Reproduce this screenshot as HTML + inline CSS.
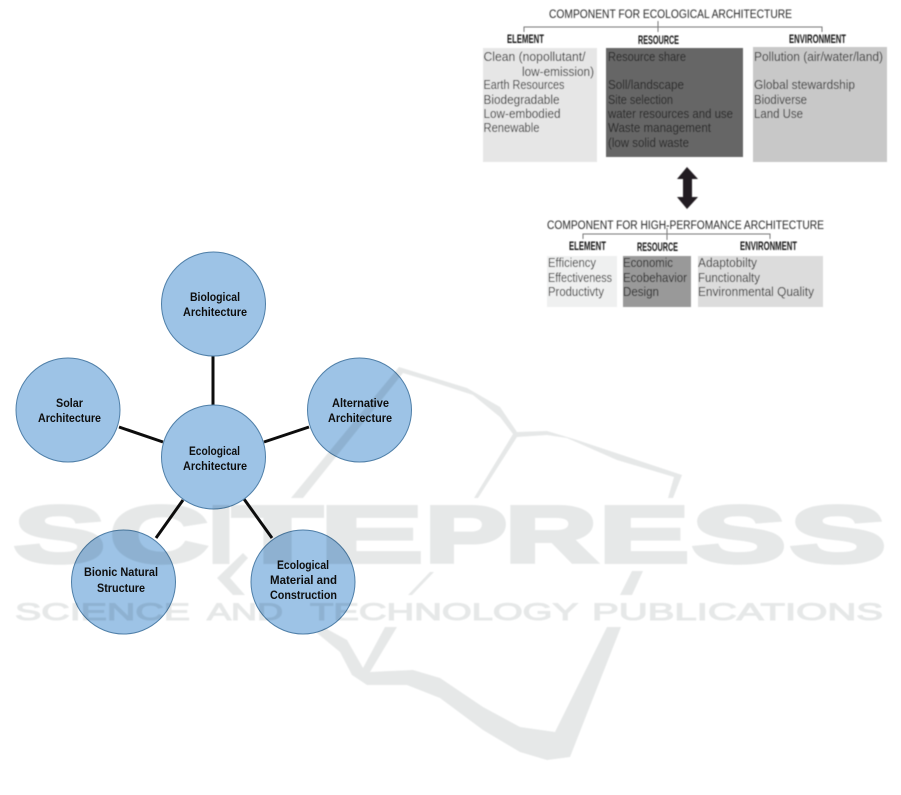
<!DOCTYPE html>
<html lang="en">
<head>
<meta charset="utf-8">
<title>Ecological Architecture</title>
<style>
html,body{margin:0;padding:0;background:#fff;width:901px;height:795px;overflow:hidden}
svg{position:absolute;left:0;top:0}
.r text{font-family:"Liberation Sans",sans-serif;font-size:12.5px;fill:#333}
.r text.d{fill:#262626}
.r text.t{font-size:11.5px;fill:#2a2a2a}
.r text.h{font-size:11.5px;font-weight:bold;fill:#151515}
.c text{font-family:"Liberation Sans",sans-serif;font-size:11.5px;font-weight:bold;fill:#111}
.wm{mix-blend-mode:multiply}
.wm text{font-family:"Liberation Sans",sans-serif;fill:#e6e8e8}
.wm .b{font-size:80px;font-weight:bold;stroke:#e6e8e8;stroke-width:4;stroke-linejoin:miter}
.wm .s{font-size:24px;stroke:#e6e8e8;stroke-width:1;stroke-linejoin:miter}
</style>
</head>
<body>
<svg width="901" height="795" viewBox="0 0 901 795" xmlns="http://www.w3.org/2000/svg">
<defs>
<filter id="b1" x="-5%" y="-5%" width="110%" height="110%"><feGaussianBlur stdDeviation="0.45"/></filter>
<filter id="b2" x="-5%" y="-5%" width="110%" height="110%"><feGaussianBlur stdDeviation="0.3"/></filter>
</defs>

<g class="r" filter="url(#b1)">
<rect x="483" y="48" width="114" height="114" fill="#e6e6e6"/>
<rect x="606" y="48" width="137" height="109" fill="#666"/>
<rect x="753" y="47" width="134" height="115" fill="#c8c8c8"/>
<path d="M524 32V27H822V32M658 21V32" fill="none" stroke="#777" stroke-width="1"/>
<text class="t" x="549" y="18" textLength="243" lengthAdjust="spacingAndGlyphs">COMPONENT FOR ECOLOGICAL ARCHITECTURE</text>
<text class="h" x="507" y="43" textLength="37" lengthAdjust="spacingAndGlyphs">ELEMENT</text>
<text class="h" x="638" y="44" textLength="41" lengthAdjust="spacingAndGlyphs">RESOURCE</text>
<text class="h" x="789" y="43" textLength="57" lengthAdjust="spacingAndGlyphs">ENVIRONMENT</text>

<text x="483.500" y="61" textLength="102" lengthAdjust="spacingAndGlyphs">Clean (nopollutant/</text>
<text x="522" y="76" textLength="72" lengthAdjust="spacingAndGlyphs">low-emission)</text>
<text x="483.500" y="89" textLength="81" lengthAdjust="spacingAndGlyphs">Earth Resources</text>
<text x="483.500" y="104" textLength="76" lengthAdjust="spacingAndGlyphs">Biodegradable</text>
<text x="483.500" y="118" textLength="77" lengthAdjust="spacingAndGlyphs">Low-embodied</text>
<text x="483.500" y="132" textLength="56" lengthAdjust="spacingAndGlyphs">Renewable</text>

<text class="d" x="608" y="61" textLength="78" lengthAdjust="spacingAndGlyphs">Resource share</text>
<text class="d" x="608" y="89" textLength="76" lengthAdjust="spacingAndGlyphs">Soll/landscape</text>
<text class="d" x="608" y="104" textLength="65" lengthAdjust="spacingAndGlyphs">Site selection</text>
<text class="d" x="608" y="118" textLength="125" lengthAdjust="spacingAndGlyphs">water resources and use</text>
<text class="d" x="608" y="132" textLength="103" lengthAdjust="spacingAndGlyphs">Waste management</text>
<text class="d" x="608" y="147" textLength="81" lengthAdjust="spacingAndGlyphs">(low solid waste</text>

<text x="754" y="61" textLength="129" lengthAdjust="spacingAndGlyphs">Pollution (air/water/land)</text>
<text x="754" y="89" textLength="101" lengthAdjust="spacingAndGlyphs">Global stewardship</text>
<text x="754" y="104" textLength="53" lengthAdjust="spacingAndGlyphs">Biodiverse</text>
<text x="754" y="118" textLength="49" lengthAdjust="spacingAndGlyphs">Land Use</text>

<polygon points="687,167 698,179 692,179 692,197 698,197 687,209 677,197 683,197 683,179 677,179" fill="#231f20"/>

<rect x="547" y="256" width="70" height="51" fill="#eff0f0"/>
<rect x="623" y="256" width="68" height="51" fill="#999"/>
<rect x="698" y="256" width="125" height="51" fill="#dcdcdc"/>
<path d="M583 239V234H770V239M667 228V240" fill="none" stroke="#777" stroke-width="1"/>
<text class="t" x="547" y="229" textLength="277" lengthAdjust="spacingAndGlyphs">COMPONENT FOR HIGH-PERFOMANCE ARCHITECTURE</text>
<text class="h" x="569" y="250" textLength="37" lengthAdjust="spacingAndGlyphs">ELEMENT</text>
<text class="h" x="637" y="251" textLength="41" lengthAdjust="spacingAndGlyphs">RESOURCE</text>
<text class="h" x="740" y="250" textLength="57" lengthAdjust="spacingAndGlyphs">ENVIRONMENT</text>

<text x="548" y="267" textLength="48" lengthAdjust="spacingAndGlyphs">Efficiency</text>
<text x="548" y="282" textLength="64" lengthAdjust="spacingAndGlyphs">Effectiveness</text>
<text x="548" y="296" textLength="56" lengthAdjust="spacingAndGlyphs">Productivty</text>
<text class="d" x="623" y="267" textLength="50" lengthAdjust="spacingAndGlyphs">Economic</text>
<text class="d" x="623" y="282" textLength="64" lengthAdjust="spacingAndGlyphs">Ecobehavior</text>
<text class="d" x="623" y="296" textLength="36" lengthAdjust="spacingAndGlyphs">Design</text>
<text x="698" y="267" textLength="59" lengthAdjust="spacingAndGlyphs">Adaptobilty</text>
<text x="698" y="282" textLength="62" lengthAdjust="spacingAndGlyphs">Functionalty</text>
<text x="698" y="296" textLength="116" lengthAdjust="spacingAndGlyphs">Environmental Quality</text>
</g>

<g class="c" filter="url(#b2)">
<g stroke="#111" stroke-width="3" fill="none">
<line x1="213" y1="355" x2="213" y2="406"/>
<line x1="119" y1="427" x2="163" y2="442"/>
<line x1="264" y1="442" x2="309" y2="427"/>
<line x1="183" y1="500" x2="156" y2="538"/>
<line x1="244" y1="499" x2="272" y2="538"/>
</g>
<g fill="#9dc3e6" stroke="#4f7fa8" stroke-width="1">
<circle cx="213.500" cy="304" r="52"/>
<circle cx="68" cy="410" r="52"/>
<circle cx="359.500" cy="410" r="52"/>
<circle cx="213.500" cy="457" r="52"/>
<circle cx="123.500" cy="582" r="52"/>
<circle cx="303" cy="582" r="52"/>
</g>
<text x="190" y="301" textLength="50" lengthAdjust="spacingAndGlyphs">Biological</text>
<text x="183" y="316" textLength="64" lengthAdjust="spacingAndGlyphs">Architecture</text>
<text x="56" y="407" textLength="27" lengthAdjust="spacingAndGlyphs">Solar</text>
<text x="38" y="422" textLength="63" lengthAdjust="spacingAndGlyphs">Architecture</text>
<text x="332" y="407" textLength="57" lengthAdjust="spacingAndGlyphs">Alternative</text>
<text x="328" y="422" textLength="64" lengthAdjust="spacingAndGlyphs">Architecture</text>
<text x="189" y="455" textLength="51" lengthAdjust="spacingAndGlyphs">Ecological</text>
<text x="183" y="470" textLength="64" lengthAdjust="spacingAndGlyphs">Architecture</text>
<text x="84" y="576" textLength="74" lengthAdjust="spacingAndGlyphs">Bionic Natural</text>
<text x="97" y="592" textLength="48" lengthAdjust="spacingAndGlyphs">Structure</text>
<text x="277" y="569" textLength="52" lengthAdjust="spacingAndGlyphs">Ecological</text>
<text x="270" y="584" textLength="67" lengthAdjust="spacingAndGlyphs">Material and</text>
<text x="270" y="599" textLength="67" lengthAdjust="spacingAndGlyphs">Construction</text>
</g>

<g class="wm" filter="url(#b1)">
<polygon fill="#e6e8e8" points="291,498 399,367 467,388 500,407 517,432 547,431 577,440 682,475 673,498 668,498 674,477 617,460 567,438 547,435 517,437 478,498 474,498 513,434 500,417 473,395 433,382 403,373 303,498"/>
<polygon fill="#e6e8e8" points="444,563 440,563 447,550 450,550"/>
<polygon fill="#e6e8e8" points="430,572 434,572 412,595 408,595"/>
<polygon fill="#e6e8e8" points="632,571 643,571 632,595 620,595"/>
<polygon fill="#e6e8e8" points="243,553 248,558 230,578 245,595 233,595 217,578"/>
<polygon fill="#e6e8e8" points="325,628 347,640 363,668 385,627 397,627 370,672 413,670 440,678 483,707 520,727 555,732 607,627 621,627 570,757 547,760 520,752 483,730 440,698 407,685 367,685 352,675 340,652 317,633"/>
<text class="b" x="14" y="562" textLength="91" lengthAdjust="spacingAndGlyphs">S</text>
<text class="b" x="110" y="562" textLength="98" lengthAdjust="spacingAndGlyphs">C</text>
<text class="b" x="209" y="562" textLength="24" lengthAdjust="spacingAndGlyphs">I</text>
<text class="b" x="233" y="562" textLength="89" lengthAdjust="spacingAndGlyphs">T</text>
<text class="b" x="320" y="562" textLength="103" lengthAdjust="spacingAndGlyphs">E</text>
<text class="b" x="425" y="562" textLength="82" lengthAdjust="spacingAndGlyphs">P</text>
<text class="b" x="505" y="562" textLength="92" lengthAdjust="spacingAndGlyphs">R</text>
<text class="b" x="599" y="562" textLength="90" lengthAdjust="spacingAndGlyphs">E</text>
<text class="b" x="692" y="562" textLength="94" lengthAdjust="spacingAndGlyphs">S</text>
<text class="b" x="790" y="562" textLength="96" lengthAdjust="spacingAndGlyphs">S</text>
<text class="s" x="15" y="620" textLength="175" lengthAdjust="spacingAndGlyphs">SCIENCE</text>
<text class="s" x="207" y="620" textLength="76" lengthAdjust="spacingAndGlyphs">AND</text>
<text class="s" x="310" y="620" textLength="268" lengthAdjust="spacingAndGlyphs">TECHNOLOGY</text>
<text class="s" x="592" y="620" textLength="291" lengthAdjust="spacingAndGlyphs">PUBLICATIONS</text>
</g>
</svg>
</body>
</html>
